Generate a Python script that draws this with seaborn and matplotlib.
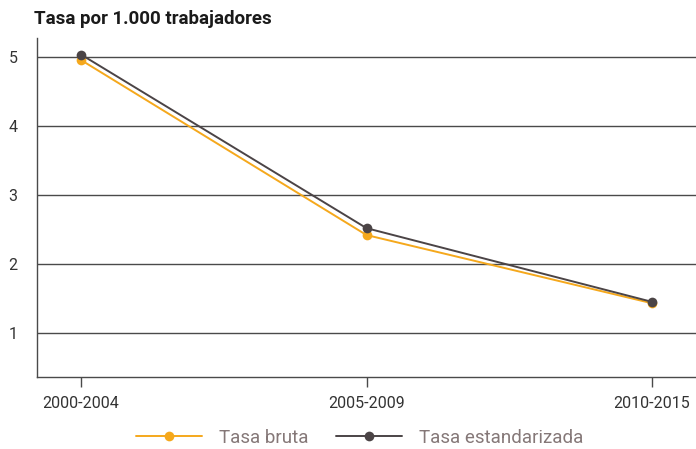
import matplotlib
matplotlib.use("Agg")
import matplotlib.pyplot as plt
import seaborn as sns
import pandas as pd
from matplotlib.lines import Line2D

periodos = ["2000-2004", "2005-2009", "2010-2015"]
tasa_bruta = [4.96, 2.42, 1.43]
tasa_estandarizada = [5.04, 2.52, 1.45]
series = ["Tasa bruta", "Tasa estandarizada"]
y_ticks = [1, 2, 3, 4, 5]

df = pd.DataFrame({
    "periodo": list(range(len(periodos))) * 2,
    "tasa": tasa_bruta + tasa_estandarizada,
    "serie": [series[0]] * 3 + [series[1]] * 3,
})

sns.set_style("white")
plt.rcParams["font.family"] = ["Roboto", "DejaVu Sans"]

fig = plt.figure(figsize=(6.96, 4.49), dpi=100)
ax = fig.add_axes([0.0532, 0.1604, 0.9468, 0.755])

palette = {series[0]: "#F5A81C", series[1]: "#4B4446"}
sns.lineplot(data=df, x="periodo", y="tasa", hue="serie", palette=palette,
             marker="o", markersize=7, markeredgewidth=0, linewidth=1.4,
             ax=ax, legend=False, zorder=3)

ax.set_xlim(-0.154, 2.154)
ax.set_ylim(0.36, 5.28)
ax.set_yticks(y_ticks)
ax.set_xticks(range(len(periodos)))
ax.set_xticklabels(periodos)
ax.set_xlabel("")
ax.set_ylabel("")

ax.yaxis.grid(True, color="#4a4a4a", linewidth=1.0)
ax.set_axisbelow(True)
for side in ["top", "right"]:
    ax.spines[side].set_visible(False)
for side in ["left", "bottom"]:
    ax.spines[side].set_color("#4a4a4a")
    ax.spines[side].set_linewidth(1.0)

ax.tick_params(axis="y", length=7, width=1.0, color="#4a4a4a", labelsize=11.5,
               labelcolor="#333333", pad=7)
ax.tick_params(axis="x", length=7, width=1.0, color="#4a4a4a", labelsize=11.5,
               labelcolor="#333333", pad=7, direction="out", bottom=True)

fig.text(0.049, 0.958, "Tasa por 1.000 trabajadores", fontsize=13.5,
         fontweight="semibold", color="#1a1a1a", va="center", ha="left")

handles = [Line2D([], [], color=palette[s], marker="o", markersize=7,
                  markeredgewidth=0, linewidth=1.4) for s in series]
leg = fig.legend(handles, series, loc="center", bbox_to_anchor=(0.517, 0.0245),
                 ncol=2, frameon=False, fontsize=13.5, handlelength=3.5,
                 columnspacing=1.5, handletextpad=0.9)
for t in leg.get_texts():
    t.set_color("#857878")

fig.savefig("out.png", dpi=100)
